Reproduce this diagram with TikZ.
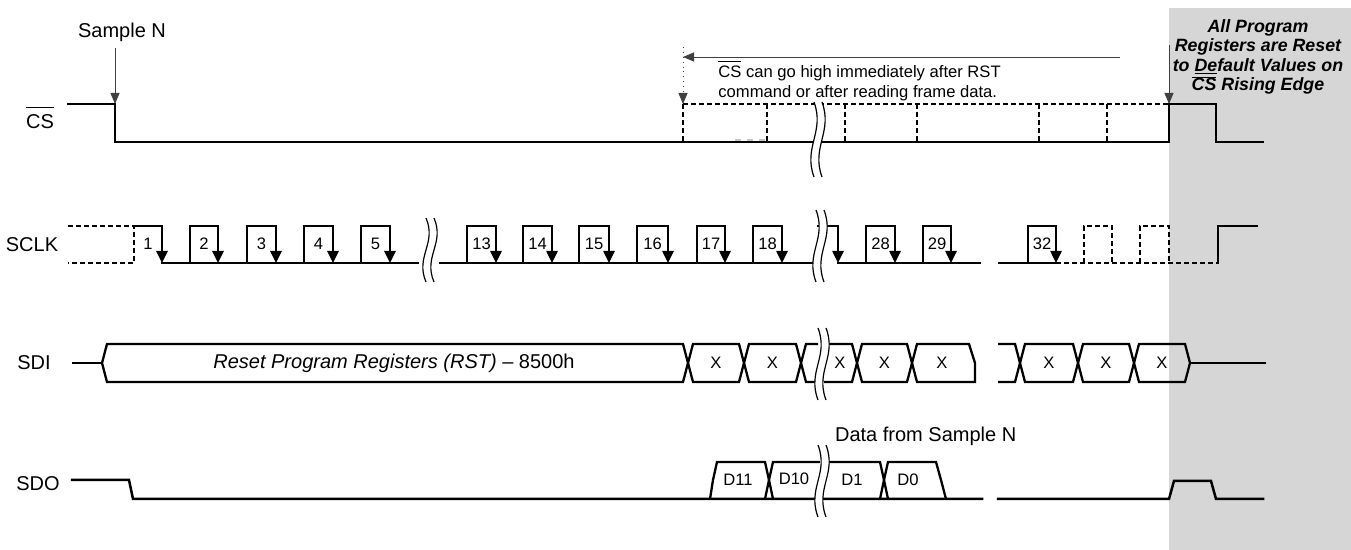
\documentclass[tikz,border=0pt]{standalone}
\usepackage{fontspec}
\setmainfont{Liberation Sans}
\usetikzlibrary{arrows.meta}

\definecolor{resetgray}{RGB}{214,214,214}

\newcommand{\ncs}[1][1pt]{\mbox{\setbox0=\hbox{CS}\rlap{\rule[\dimexpr\ht0+#1\relax]{\wd0}{0.5pt}}\box0}}
\newcommand{\uln}[1]{\mbox{\setbox0=\hbox{#1}\rlap{\rule[-1.3pt]{\wd0}{0.6pt}}\box0}}
\newcommand{\brk}[3]{%
  \begin{scope}[shift={(#1,#2)}]
    \fill[white] (-4,0) .. controls (7,0.4*#3) and (-15,0.6*#3) .. (-4,#3)
      -- (4,#3) .. controls (-7,0.6*#3) and (15,0.4*#3) .. (4,0) -- cycle;
    \draw[brkline] (-4,0) .. controls (7,0.4*#3) and (-15,0.6*#3) .. (-4,#3);
    \draw[brkline] (4,0) .. controls (15,0.4*#3) and (-7,0.6*#3) .. (4,#3);
  \end{scope}}

\begin{document}
\begin{tikzpicture}[x=0.5pt, y=-0.5pt,
  sig/.style={line width=1.25pt, line cap=rect},
  dsig/.style={line width=1.1pt, dash pattern=on 2.5pt off 1.5pt},
  bus/.style={line width=1.15pt},
  fall/.style={line width=1.25pt, -{Triangle[length=6pt,width=5.5pt]}},
  notearr/.style={line width=0.45pt, black!75, -{Triangle[length=5.5pt,width=4.5pt]}},
  brkline/.style={line width=0.6pt},
  lbl/.style={font=\fontsize{10}{12}\selectfont},
  num/.style={font=\fontsize{8.3}{9}\selectfont, inner sep=0pt}]
\useasboundingbox (0,0) rectangle (1351,550);
\fill[resetgray] (1169,8) rectangle (1351,550);

\node[lbl, anchor=base] (cslbl) at (40,129) {\ncs[3.5pt]};
\node[lbl] (sclklbl) at (32,245) {SCLK};
\node[lbl] (sdilbl) at (34,363) {SDI};
\node[lbl] (sdolbl) at (38,484) {SDO};

\node[lbl] (smpl) at (122,32) {Sample N};
\coordinate (csfall) at (115,104);
\coordinate (cshigh) at (683,104);
\coordinate (csrise) at (1169,104);
\coordinate (notestart) at (1120,57);
\coordinate (noteend) at (683,57);
\coordinate (dottop) at (683,47);
\coordinate (risetop) at (1169,45);
\draw[notearr] (smpl.south -| csfall) -- (csfall);
\draw[notearr] (notestart) -- (noteend);
\draw[notearr, dotted] (dottop) -- (cshigh);
\draw[notearr] (risetop) -- (csrise);
\node[font=\fontsize{8.3}{10}\selectfont, align=left, anchor=north west, inner sep=0pt]
      (csnote) at (718,61) {\ncs[1.8pt] can go high immediately after RST\\command or after reading frame data.};
\node[font=\fontsize{8.9}{9.6}\selectfont\bfseries\itshape, align=center] (rstnote) at (1258,57)
      {All Program\\Registers are Reset\\to \uln{De}fault Values on\\\ncs[0.2pt] Rising Edge};

% CS
\draw[sig] (68,104) -- (115,104) -- (115,142) -- (1169,142) -- (1169,104) -- (1216,104) -- (1216,142) -- (1263,142);
\draw[dsig] (cshigh) -- (683,142);
\draw[dsig] (cshigh) -- (csrise);
\foreach \xd in {767,845,917,1039,1107}
  \draw[dsig] (\xd,104) -- (\xd,142);
\draw[gray!45, line width=0.6pt, dashed] (735,140) -- (765,140);

% SCLK
\draw[dsig] (68,226) -- (134,226) -- (134,263) -- (68,263);
\draw[sig] (134,226) -- (162,226);
\draw[fall] (162,226) -- (162,263);
\node[num] (n1) at (148,244) {1};
\draw[sig] (162,263) -- (418,263);
\draw[sig] (440,263) -- (812,263);
\draw[sig] (818,226) -- (838,226);
\draw[fall] (838,226) -- (838,263);
\draw[sig] (838,263) -- (980,263);
\draw[sig] (999,263) -- (1056,263);
\foreach \rs/\fs/\lab in {190/218/2, 247/276/3, 304/333/4, 361/390/5,
    467/496/13, 523/552/14, 579/609/15, 637/668/16, 697/725/17, 753/782/18,
    866/895/28, 923/951/29, 1028/1056/32} {
  \draw[sig] (\rs,263) -- (\rs,226) -- (\fs,226);
  \draw[fall] (\fs,226) -- (\fs,263);
  \node[num] (n\lab) at ({(\rs+\fs)/2},244) {\lab};
}
\draw[dsig] (1056,263) -- (1218,263);
\draw[dsig] (1084,263) -- (1084,226) -- (1112,226) -- (1112,263);
\draw[dsig] (1140,263) -- (1140,226) -- (1169,226) -- (1169,263);
\draw[sig] (1218,263) -- (1218,226) -- (1257,226);

% SDI
\draw[bus] (72,363) -- (102,363);
\draw[bus] (102,363) -- (107,344) -- (683,344) -- (688,363) -- (683,382) -- (107,382) -- cycle;
\node[lbl] (rsttxt) at (394,363) {\textit{Reset Program Registers (RST)} \textendash{} 8500h};
\foreach \a/\b [count=\i] in {688/744, 744/801, 857/912, 1020/1078, 1078/1134, 1134/1190} {
  \draw[bus] (\a,363) -- (\a+5,344) -- (\b-5,344) -- (\b,363) -- (\b-5,382) -- (\a+5,382) -- cycle;
  \node[num] (sdix\i) at ({(\a+\b)/2},363) {X};
}
\draw[bus] (818,344) -- (806,344) -- (801,363) -- (806,382) -- (818,382);
\draw[bus] (824,344) -- (852,344) -- (857,363) -- (852,382) -- (824,382);
\node[num] (sdixa) at (840,363) {X};
\draw[bus] (912,363) -- (917,344) -- (969,344) -- (975,363) -- (975,382) -- (917,382) -- cycle;
\node[num] (sdixb) at (942,363) {X};
\draw[bus] (998,344) -- (1015,344) -- (1020,363) -- (1015,382) -- (998,382);
\draw[bus] (1190,363) -- (1266,363);

% SDO
\draw[sig] (72,480) -- (129,480) -- (133,499) -- (982,499);
\draw[sig] (998,499) -- (1169,499) -- (1174,481) -- (1211,481) -- (1216,499) -- (1263,499);
\draw[bus] (710,499) -- (713,480) -- (717,462) -- (765,462) -- (769,480) -- (765,499);
\draw[bus] (773,499) -- (769,480) -- (773,462) -- (820,462);
\draw[bus] (824,462) -- (880,462) -- (884,480) -- (880,499);
\draw[bus] (888,499) -- (884,480) -- (888,462) -- (936,462) -- (941,480) -- (946,499);
\node[num] (d11) at (738,480) {D11};
\node[num] (d10) at (794,479) {D10};
\node[num] (d1) at (852,480) {D1};
\node[num] (d0) at (908,480) {D0};
\node[lbl, anchor=west] (datan) at (828,436) {Data from Sample N};

% breaks
\brk{430}{218}{64}
\brk{818}{102}{75}
\brk{820}{210}{72}
\brk{822}{328}{72}
\brk{822}{445}{72}
\end{tikzpicture}
\end{document}
